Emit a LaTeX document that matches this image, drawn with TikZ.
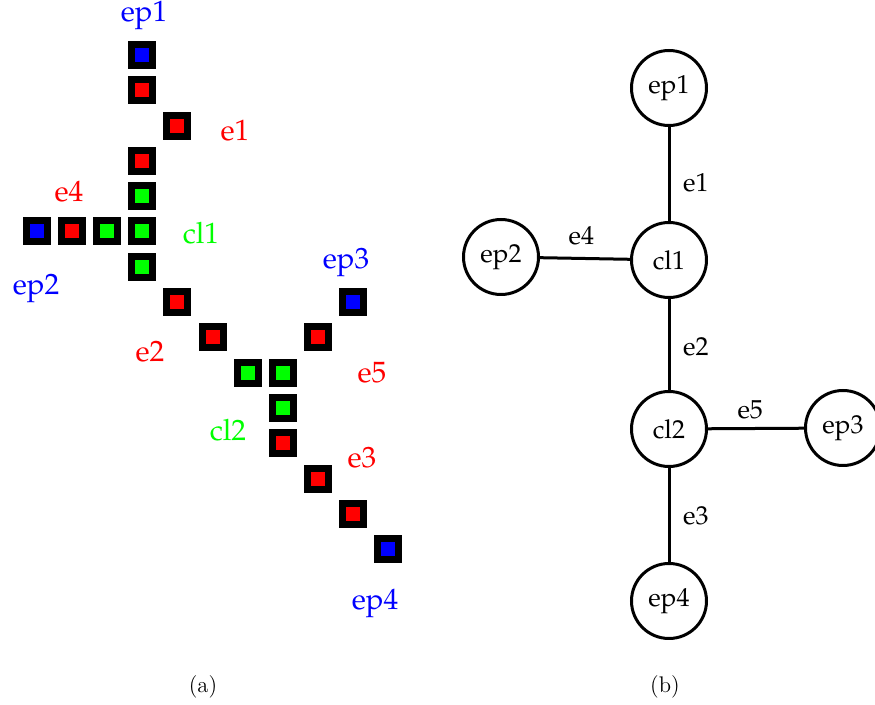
\documentclass[tikz,border=0pt]{standalone}
\usepackage[T1,TU]{fontenc}
\usetikzlibrary{positioning}

\newcommand{\palfont}{\fontencoding{T1}\fontfamily{ppl}\selectfont}

\begin{document}
\begin{tikzpicture}[x=0.5pt, y=-0.5pt]
    \tikzset{
        cell/.style={rectangle, draw=black, line width=3.5pt, minimum size=10.5pt, inner sep=0pt},
        gridlabel/.style={font=\palfont\fontsize{14.7}{17}\selectfont},
        vertex/.style={circle, draw, line width=1.5pt, minimum size=37.5pt, inner sep=0pt, font=\palfont\fontsize{13}{15}\selectfont},
        edgelabel/.style={font=\palfont\fontsize{13}{15}\selectfont},
        caption/.style={font=\fontsize{11.3}{13}\selectfont}
    }
    \useasboundingbox (0,0) rectangle (875,705);

    % (a) pixel grid
    \foreach \c/\r/\col in {3/0/blue, 3/1/red, 4/2/red, 3/3/red, 3/4/green,
                            0/5/blue, 1/5/red, 2/5/green, 3/5/green, 3/6/green,
                            4/7/red, 5/8/red, 6/9/green, 7/9/green, 7/10/green,
                            7/11/red, 8/12/red, 9/13/red, 10/14/blue,
                            9/7/blue, 8/8/red}
        \node[cell, fill=\col] (c\c-\r) at ({37+35.1*\c},{55+35.3*\r}) {};

    \node[gridlabel, text=blue]  (lep1) at (144,15)  {ep1};
    \node[gridlabel, text=red]   (le1)  at (235,131) {e1};
    \node[gridlabel, text=red]   (le4)  at (69,192)  {e4};
    \node[gridlabel, text=green] (lcl1) at (201,233) {cl1};
    \node[gridlabel, text=blue]  (lep2) at (36,288)  {ep2};
    \node[gridlabel, text=blue]  (lep3) at (346,262) {ep3};
    \node[gridlabel, text=red]   (le2)  at (150,352) {e2};
    \node[gridlabel, text=red]   (le5)  at (372,373) {e5};
    \node[gridlabel, text=green] (lcl2) at (228,430) {cl2};
    \node[gridlabel, text=red]   (le3)  at (362,458) {e3};
    \node[gridlabel, text=blue]  (lep4) at (375,603) {ep4};

    % (b) graph
    \node[vertex] (ep1) at (669,88)  {ep1};
    \node[vertex] (cl1) at (669,260) {cl1};
    \node[vertex] (ep2) at (501,257) {ep2};
    \node[vertex] (cl2) at (669,429) {cl2};
    \node[vertex] (ep3) at (843,428) {ep3};
    \node[vertex] (ep4) at (669,601) {ep4};

    \draw[line width=1.5pt] (ep1) -- node[edgelabel, pos=0.59, right=3pt] {e1} (cl1);
    \draw[line width=1.5pt] (ep2) -- node[edgelabel, pos=0.46, above=2.5pt] {e4} (cl1);
    \draw[line width=1.5pt] (cl1) -- node[edgelabel, pos=0.53, right=3pt] {e2} (cl2);
    \draw[line width=1.5pt] (cl2) -- node[edgelabel, pos=0.44, above=0.5pt] {e5} (ep3);
    \draw[line width=1.5pt] (cl2) -- node[edgelabel, pos=0.51, right=3pt] {e3} (ep4);

    \node[caption] (capa) at (203,687) {(a)};
    \node[caption] (capb) at (665,687) {(b)};
\end{tikzpicture}
\end{document}
